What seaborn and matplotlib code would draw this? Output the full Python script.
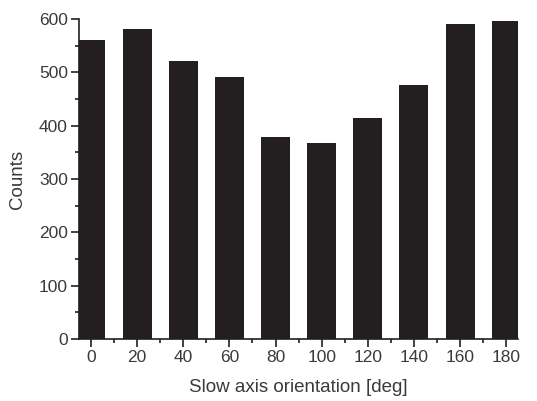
import numpy as np
import pandas as pd
import matplotlib
matplotlib.use("Agg")
import matplotlib.pyplot as plt
import seaborn as sns
from matplotlib.ticker import MultipleLocator

# Histogram of slow axis orientations
angles = [0, 20, 40, 60, 80, 100, 120, 140, 160, 180]
counts = [561, 581, 522, 491, 378, 367, 414, 476, 590, 596]

sns.set_style("ticks")
plt.rcParams['font.family'] = ['Liberation Sans', 'DejaVu Sans']

ink = "#231f20"
text_col = "#3a3a3a"

df = pd.DataFrame({"angle": angles, "counts": counts})

fig = plt.figure(figsize=(5.37, 4.01), dpi=100)
ax = fig.add_axes([0.147, 0.1546, 0.818, 0.798])

sns.barplot(data=df, x="angle", y="counts", native_scale=True, width=0.63,
            color=ink, saturation=1, edgecolor=ink, linewidth=0, ax=ax)

ax.set_xlim(-5.2, 185.2)
ax.set_ylim(0, 600)
ax.set_xticks(angles)
ax.xaxis.set_minor_locator(MultipleLocator(10))
ax.yaxis.set_major_locator(MultipleLocator(100))
ax.yaxis.set_minor_locator(MultipleLocator(50))

ax.tick_params(axis="both", which="major", length=6, width=1.2, color=ink,
               labelsize=12.5, labelcolor=text_col, pad=2)
ax.tick_params(axis="both", which="minor", length=3, width=1.2, color=ink)

for side in ["top", "right"]:
    ax.spines[side].set_visible(False)
for side in ["left", "bottom"]:
    ax.spines[side].set_linewidth(1.2)
    ax.spines[side].set_color(ink)

ax.set_xlabel("Slow axis orientation [deg]", fontsize=13.5, color=text_col, labelpad=10)
ax.set_ylabel("Counts", fontsize=13.5, color=text_col, labelpad=9)

fig.savefig("out.png", dpi=100)
